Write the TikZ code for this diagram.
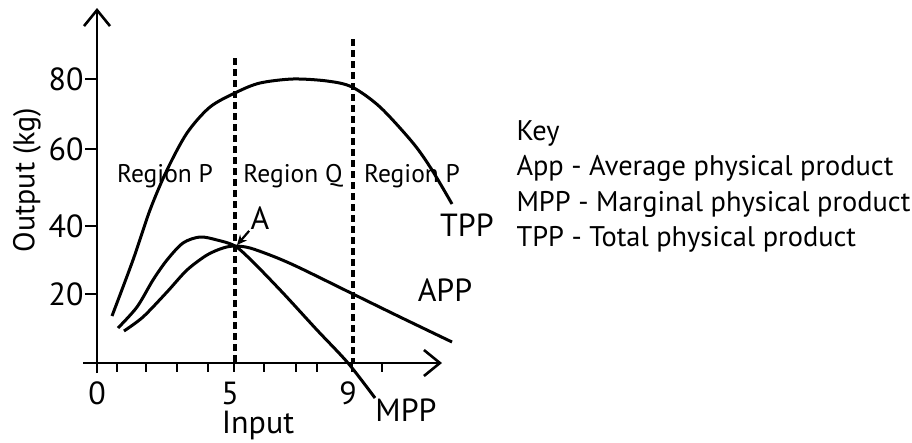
\documentclass[tikz,border=0pt]{standalone}
\usepackage{fontspec}
\setmainfont{PT Sans}
\usetikzlibrary{arrows.meta}

\begin{document}
\begin{tikzpicture}[x=1pt, y=-1pt, line width=3pt,
    every node/.style={font=\fontsize{32}{38}\selectfont, inner sep=0pt},
    region/.style={font=\fontsize{25.5}{30}\selectfont, anchor=base},
    keytext/.style={font=\fontsize{28.4}{34}\selectfont, anchor=base west},
    boundary/.style={line width=4pt, dash pattern=on 7pt off 4pt},
    axisarrow/.style={line width=2.6pt, -{Straight Barb[length=16pt,width=26pt]}},
    pointer/.style={line width=2.2pt, -{Stealth[length=10pt,width=9pt]}}]
  \useasboundingbox (0,0) rectangle (912,442);
  % axes
  \draw[axisarrow] (97,373) -- (97,8);
  \draw[axisarrow] (83,363) -- (442,363);
  \foreach \y in {79,149,226,294} \draw[line width=2.6pt] (85,\y) -- (97,\y);
  \foreach \x in {117,146,177,208,234,264,296,317,352,382} \draw[line width=2.6pt] (\x,363) -- (\x,372);
  \foreach \y/\t in {79/80,149/60,226/40,294/20} \node[anchor=east] (lab\t) at (85,\y) {\t};
  \foreach \x/\t in {97/0,230/5,348/9} \node (tick\t) at (\x,393) {\t};
  \node[anchor=base] (input) at (258,433) {Input};
  \node[rotate=90] (output) at (27,180) {\fontsize{30}{36}\selectfont Output (kg)};
  % region boundaries
  \draw[boundary] (235,58) -- (235,363);
  \draw[boundary] (353,39) -- (353,363);
  \node[region] (regP1) at (165,182) {Region P};
  \node[region] (regQ) at (293,182) {Region Q};
  \node[region] (regP2) at (412,182) {Region P};
  % TPP
  \draw plot[smooth, tension=0.5] coordinates {(112,316) (133,260) (150,210) (167,170) (187,133) (210,107) (237,92) (260,83) (293,79) (327,81) (352,87) (380,107) (413,143) (432,170) (452,204)};
  \node (tpp) at (467,225) {TPP};
  % APP
  \draw plot[smooth, tension=0.5] coordinates {(124,331) (143,317) (167,292) (187,270) (207,255) (223,248) (235,246) (250,248) (275,257) (300,268) (353,294) (400,317) (452,342)};
  \node (app) at (445,290) {APP};
  % MPP
  \draw plot[smooth, tension=0.5] coordinates {(118,328) (137,307) (153,280) (167,260) (183,243) (200,237) (217,240) (235,246) (253,262) (283,293) (317,330) (348,363) (375,398)};
  \node (mpp) at (406,410) {MPP};
  % point A
  \coordinate (A) at (237,245);
  \node (alab) at (260,218) {A};
  \draw[pointer] (alab.south west) -- (A);
  % key
  \foreach \t [count=\i] in {Key, App - Average physical product, MPP - Marginal physical product, TPP - Total physical product}
    \node[keytext] (key\i) at (515,{104.5+35.5*\i}) {\t};
\end{tikzpicture}
\end{document}
